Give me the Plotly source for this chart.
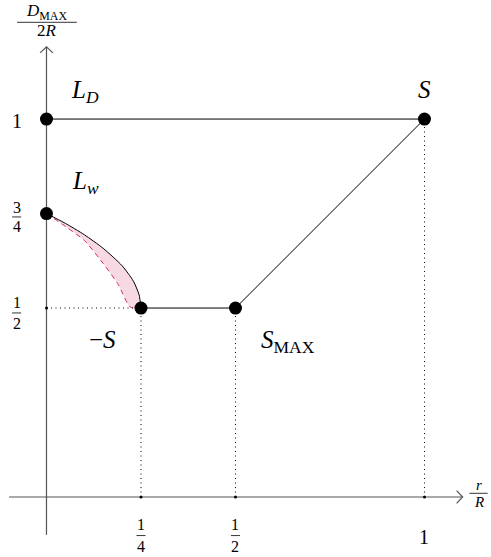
import plotly.graph_objects as go

# Polygon S-L_D ... and corner points
path_x = [0, 1, 0.5, 0.25]
path_y = [1, 1, 0.5, 0.5]
pt_x = [0, 1, 0, 0.25, 0.5]
pt_y = [1, 1, 0.75, 0.5, 0.5]

# L_w curve (solid) and the dashed lower bound
lw_x = [0, 0.05, 0.10, 0.15, 0.20, 0.23, 0.245, 0.25]
lw_y = [0.75, 0.724, 0.694, 0.658, 0.612, 0.571, 0.535, 0.5]
dash_x = [0, 0.05, 0.10, 0.15, 0.19, 0.221, 0.25]
dash_y = [0.75, 0.716, 0.679, 0.618, 0.562, 0.503, 0.5]

# dotted guides: (x0, y0, x1, y1)
guides = [(0.25, 0, 0.25, 0.5), (0.5, 0, 0.5, 0.5), (1, 0, 1, 1), (0, 0.5, 0.25, 0.5)]
tick_dot_x = [0.25, 0.5, 1, 0]
tick_dot_y = [0, 0, 0, 0.5]

FONT = "Liberation Serif, DejaVu Serif, serif"
AX = "#555555"

fig = go.Figure()

# pink band between the two curves
fig.add_trace(go.Scatter(
    x=lw_x + dash_x[::-1], y=lw_y + dash_y[::-1],
    mode="lines", fill="toself", fillcolor="rgba(240,186,206,0.55)",
    line=dict(width=0, shape="spline", smoothing=0.6), hoverinfo="skip"))

# axes
fig.add_trace(go.Scatter(x=[-0.099, 1.101], y=[0, 0], mode="lines",
                         line=dict(color=AX, width=1.2), hoverinfo="skip"))
fig.add_trace(go.Scatter(x=[0, 0], y=[-0.1, 1.191], mode="lines",
                         line=dict(color=AX, width=1.2), hoverinfo="skip"))
fig.add_trace(go.Scatter(x=[1.085, 1.101, 1.085], y=[0.017, 0, -0.017], mode="lines",
                         line=dict(color=AX, width=1.2), hoverinfo="skip"))
fig.add_trace(go.Scatter(x=[-0.017, 0, 0.017], y=[1.175, 1.191, 1.175], mode="lines",
                         line=dict(color=AX, width=1.2), hoverinfo="skip"))

# dotted guides
for x0, y0, x1, y1 in guides:
    fig.add_trace(go.Scatter(x=[x0, x1], y=[y0, y1], mode="lines",
                             line=dict(color="black", width=1, dash="1px,3.5px"),
                             hoverinfo="skip"))
fig.add_trace(go.Scatter(x=tick_dot_x, y=tick_dot_y, mode="markers",
                         marker=dict(color="black", size=3), hoverinfo="skip"))

# dashed lower bound
fig.add_trace(go.Scatter(x=dash_x, y=dash_y, mode="lines",
                         line=dict(color="#d6246a", width=1, dash="5px,4px",
                                   shape="spline", smoothing=0.6),
                         hoverinfo="skip"))
# L_w curve
fig.add_trace(go.Scatter(x=lw_x, y=lw_y, mode="lines",
                         line=dict(color="black", width=1, shape="spline", smoothing=0.6),
                         hoverinfo="skip"))
# main polyline
fig.add_trace(go.Scatter(x=path_x, y=path_y, mode="lines",
                         line=dict(color="black", width=1), hoverinfo="skip"))
fig.add_trace(go.Scatter(x=pt_x, y=pt_y, mode="markers",
                         marker=dict(color="black", size=13), hoverinfo="skip"))

ann = []


def label(x, y, text, size=25):
    ann.append(dict(x=x, y=y, text=text, showarrow=False, xanchor="center",
                    yanchor="middle", font=dict(family=FONT, size=size, color="black")))


label(0.103, 1.073, "<i>L</i><sub><i>D</i></sub>")
label(1.001, 1.079, "<i>S</i>")
label(0.102, 0.831, "<i>L</i><sub><i>w</i></sub>")
label(0.147, 0.418, "\u2212<i>S</i>")
label(0.639, 0.411, "<i>S</i><sub>MAX</sub>")
label(-0.079, 0.995, "1", 20)
label(1.0, -0.107, "1", 20)

# fractions: numerator, bar, denominator
shapes = []


def frac(x, y, num, den, size=16, half=0.012, up=0.027, down=0.027):
    label(x, y + up, num, size)
    label(x, y - down, den, size)
    shapes.append(dict(type="line", x0=x - half, x1=x + half, y0=y, y1=y,
                       line=dict(color="black", width=0.8)))


frac(-0.079, 0.741, "3", "4", up=0.025, down=0.024)
frac(-0.079, 0.487, "1", "2", up=0.028, down=0.028)
frac(0.25, -0.102, "1", "4", up=0.029, down=0.029)
frac(0.5, -0.102, "1", "2", up=0.029, down=0.029)
frac(0.0013, 1.256, "<i>D</i><sub>MAX</sub>", "2<i>R</i>", 17, half=0.079, up=0.026, down=0.023)
frac(1.143, 0.0098, "<i>r</i>", "<i>R</i>", 15, half=0.024, up=0.021, down=0.022)

fig.update_layout(
    width=491, height=557,
    margin=dict(l=0, r=0, t=0, b=0),
    paper_bgcolor="white", plot_bgcolor="white",
    showlegend=False,
    xaxis=dict(range=[-0.123, 1.176], visible=False, fixedrange=True),
    yaxis=dict(range=[-0.1587, 1.315], visible=False, fixedrange=True),
    annotations=ann, shapes=shapes,
)

# drop the default 8px page margin so the figure fills the window
fig.write_html("out.html", config={"displayModeBar": False},
               post_script="document.body.style.margin='0px';")
